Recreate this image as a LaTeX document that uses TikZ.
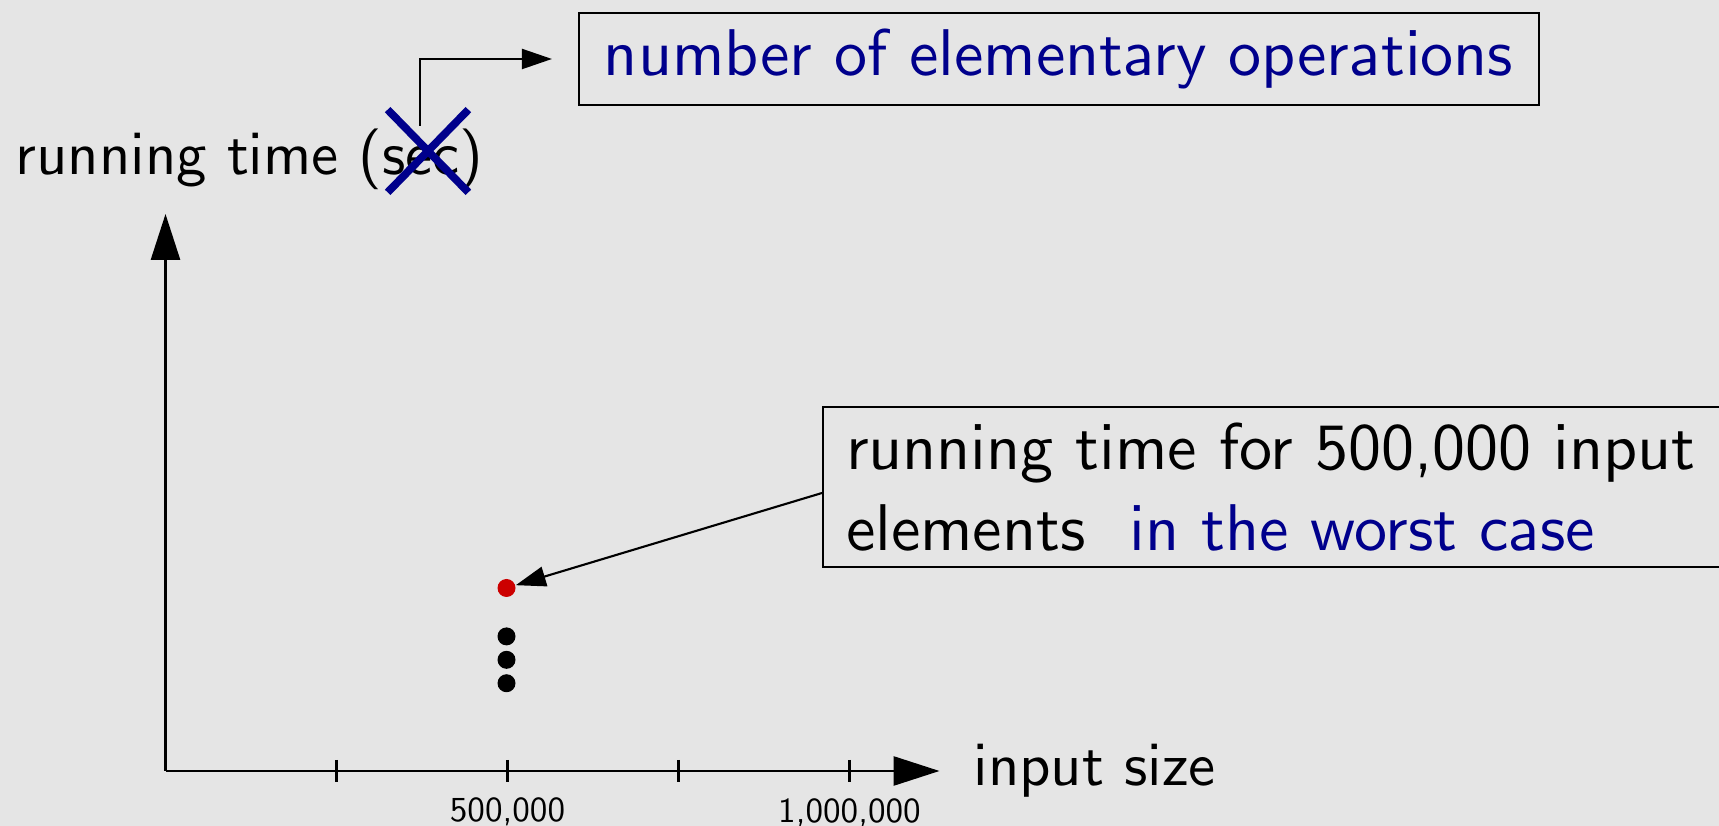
\documentclass[tikz,border=0pt]{standalone}
\usepackage{tikz}
\usetikzlibrary{arrows.meta,positioning,shapes.misc}
\renewcommand{\familydefault}{\sfdefault}
% sans serif of the 10pt design at every size
\DeclareFontFamily{OT1}{cmssx}{}
\DeclareFontShape{OT1}{cmssx}{m}{n}{<-> cmss10}{}
\newcommand{\ssx}[1]{\fontencoding{OT1}\fontfamily{cmssx}\fontsize{#1}{22.8}\selectfont}
\definecolor{slidebg}{RGB}{229,229,229}
\definecolor{alertblue}{RGB}{0,0,140}
\definecolor{dotred}{RGB}{204,0,0}

\begin{document}
\begin{tikzpicture}[x=0.1mm,y=-0.1mm,
 txt/.style={font=\ssx{17.3},inner sep=0pt},
 box/.style={draw,semithick,inner sep=0pt,fill=slidebg,font=\ssx{18.8}},
 axis/.style={-{Triangle[length=4.6mm,width=2.9mm]},thick},
 arr/.style={-{Triangle[length=3mm,width=2mm]},semithick},
 dot/.style={circle,fill,inner sep=0pt,minimum size=1.8mm},
 lbl/.style={font=\ssx{10},inner sep=0pt}]
\fill[slidebg] (0,0) rectangle (1719,826);
\useasboundingbox (0,0) rectangle (1719,826);
% axes and ticks
\coordinate (origin) at (165.5,771);
\coordinate (xend) at (939.5,771);
\coordinate (yend) at (165.5,214);
\draw[axis] (origin) -- (xend);
\draw[axis] (origin) -- (yend);
\foreach \k in {1,...,4}{
  \path (origin) ++(\k*171,0) coordinate (t\k);
  \draw[thick] (t\k) ++(0,-11) -- ++(0,22);
}
\node[lbl,below=2.7mm of t2] (l500) {500,000};
\node[lbl,below=2.75mm of t4] (l1000) {1,000,000};
\node[txt,right=3.35mm of xend] (xlabel) {input size};
\node[txt,anchor=base west] (ylabel) at (15,175) {running time (sec)};
% crossed out unit
\node[cross out,draw=alertblue,line width=2.2pt,minimum width=7.3mm,minimum height=7.5mm,inner sep=0pt] (cross) at (428,151) {};
\node[box,text=alertblue,minimum width=96mm,minimum height=9.2mm] (ops) at (1059,59) {number of elementary operations};
\draw[arr,shorten >=2.6mm] ([xshift=-0.84mm,yshift=2.5mm]cross.center) |- (ops.west);
% measurements at 500,000
\node[dot,fill=dotred] (worst) at (506.5,588) {};
\node[dot,below=2.9mm of worst] (d1) {};
\node[dot,below=0.4mm of d1] (d2) {};
\node[dot,below=0.4mm of d2] (d3) {};
\node[box,anchor=west,align=left,text width=90mm,inner xsep=2.3mm,minimum height=16mm] (cases) at (822,487)
  {running time for 500,000 input\\elements~ \textcolor{alertblue}{in the worst case}};
\draw[arr] ([yshift=-0.6mm]cases.west) -- (worst);
\end{tikzpicture}
\end{document}
